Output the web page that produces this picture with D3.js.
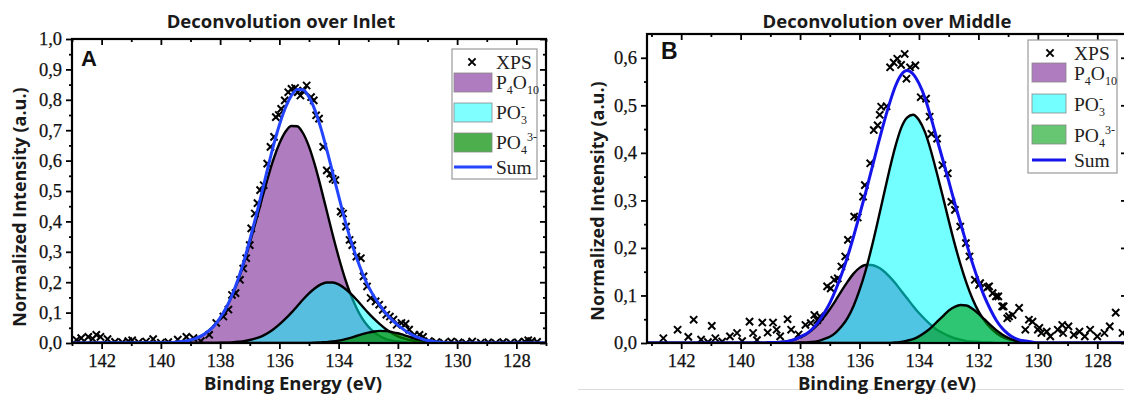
<!DOCTYPE html>
<html><head><meta charset="utf-8">
<script src="https://cdn.jsdelivr.net/npm/d3@7"></script>
<style>body{margin:0;background:#fff}svg{display:block}</style>
</head><body>
<svg id="chart" width="1124" height="394"></svg>
<script>
// ---------------- DATA ----------------
const energyGrid = [143.2,
  140.0,139.8,139.6,139.4,139.2,139.0,138.8,138.6,138.4,138.2,
  138.0,137.8,137.6,137.4,137.2,137.0,136.8,136.6,136.4,136.2,
  136.0,135.8,135.6,135.4,135.2,135.0,134.8,134.6,134.4,134.2,
  134.0,133.8,133.6,133.4,133.2,133.0,132.8,132.6,132.4,132.2,
  132.0,131.8,131.6,131.4,131.2,131.0,130.8,130.6,130.4,130.2,
  130.0,129.8,129.6,129.4,129.2,129.0,127.0];

const inletP4O10 = [0,
  0.001,0.001,0.002,0.004,0.006,0.010,0.016,0.025,0.039,0.057,
  0.082,0.114,0.155,0.204,0.262,0.328,0.398,0.470,0.540,0.604,
  0.656,0.694,0.714,0.713,0.690,0.646,0.585,0.512,0.434,0.356,
  0.283,0.217,0.161,0.116,0.080,0.054,0.035,0.022,0.013,0.008,
  0.005,0.003,0.001,0.001,0,0,0,0,0,0,
  0,0,0,0,0,0,0];
const inletPO3 = [0,
  0,0,0,0,0,0,0,0,0,0,
  0.001,0.001,0.002,0.004,0.006,0.010,0.015,0.022,0.032,0.045,
  0.061,0.079,0.099,0.121,0.143,0.163,0.180,0.193,0.199,0.199,
  0.193,0.180,0.163,0.143,0.121,0.099,0.079,0.061,0.045,0.032,
  0.022,0.015,0.010,0.006,0.004,0.002,0.001,0.001,0,0,
  0,0,0,0,0,0,0];
const inletPO4 = [0,
  0,0,0,0,0,0,0,0,0,0,
  0,0,0,0,0,0,0,0,0,0,
  0,0,0,0,0,0,0.001,0.002,0.003,0.005,
  0.008,0.012,0.017,0.023,0.029,0.034,0.038,0.040,0.039,0.036,
  0.032,0.026,0.020,0.014,0.010,0.006,0.004,0.002,0.001,0,
  0,0,0,0,0,0,0];

const middleP4O10 = [0,
  0,0,0,0,0,0.001,0.001,0.002,0.004,0.007,
  0.012,0.018,0.027,0.039,0.054,0.071,0.090,0.110,0.129,0.146,
  0.158,0.164,0.164,0.160,0.152,0.140,0.126,0.110,0.094,0.078,
  0.063,0.050,0.038,0.028,0.021,0.015,0.010,0.007,0.004,0.003,
  0.002,0.001,0.001,0,0,0,0,0,0,0,
  0,0,0,0,0,0,0];
const middlePO3 = [0,
  0,0,0,0,0,0,0,0,0,0,
  0.001,0.001,0.002,0.004,0.008,0.013,0.022,0.035,0.053,0.078,
  0.111,0.151,0.199,0.252,0.307,0.362,0.412,0.452,0.474,0.480,
  0.469,0.444,0.405,0.358,0.309,0.258,0.209,0.165,0.126,0.093,
  0.067,0.047,0.032,0.021,0.013,0.008,0.005,0.003,0.002,0.001,
  0,0,0,0,0,0,0];
const middlePO4 = [0,
  0,0,0,0,0,0,0,0,0,0,
  0,0,0,0,0,0,0,0,0,0,
  0,0,0,0,0,0,0.001,0.002,0.005,0.008,
  0.014,0.022,0.032,0.044,0.056,0.068,0.076,0.080,0.079,0.072,
  0.062,0.050,0.038,0.027,0.018,0.011,0.006,0.003,0.002,0.001,
  0,0,0,0,0,0,0];

const inletXpsEnergy = [142.85,142.69,142.45,142.30,142.18,142.04,141.80,141.55,141.30,141.10,
  140.97,140.75,140.50,140.26,140.00,139.75,139.43,139.14,138.90,138.65,
  138.37,138.13,137.89,137.72,137.60,137.48,137.33,137.22,137.12,137.00,
  136.95,136.83,136.74,136.65,136.53,136.41,136.30,136.18,136.12,136.02,
  135.94,135.82,135.70,135.59,135.47,135.38,135.29,135.20,135.08,134.93,
  134.84,134.76,134.66,134.52,134.40,134.28,134.20,134.11,133.93,133.85,
  133.75,133.63,133.54,133.40,133.25,133.16,133.04,132.92,132.75,132.63,
  132.51,132.39,132.27,132.15,132.04,131.88,131.74,131.62,131.44,131.27,
  131.15,130.95,130.70,130.45,130.20,129.95,129.70,129.49,129.20,128.95,
  128.70,128.45,128.20,127.95,127.72,127.60,127.48,127.30];
const inletXpsIntensity = [0.010,0.016,0.020,0.014,0.027,0.020,0.013,0.004,0.002,0.006,
  0.009,0.002,0.005,0.013,0.001,0.003,0.011,0.020,0.016,0.006,
  0.027,0.066,0.087,0.110,0.158,0.164,0.208,0.245,0.279,0.322,
  0.377,0.426,0.460,0.503,0.519,0.590,0.645,0.678,0.743,0.750,
  0.770,0.798,0.825,0.836,0.839,0.825,0.814,0.830,0.847,0.809,
  0.798,0.749,0.738,0.645,0.568,0.557,0.540,0.536,0.432,0.426,
  0.383,0.339,0.322,0.284,0.279,0.219,0.186,0.148,0.137,0.126,
  0.109,0.093,0.087,0.077,0.060,0.066,0.063,0.044,0.027,0.027,
  0.020,0.006,0.003,0.001,0.005,0.002,0.000,0.005,0.001,0.002,
  0.000,0.003,0.001,0.002,0.005,0.009,0.006,0.004];

const middleXpsEnergy = [142.60,142.12,141.76,141.58,141.33,141.10,140.97,140.85,140.62,140.36,
  140.12,139.95,139.70,139.58,139.45,139.27,139.09,138.91,138.79,138.67,
  138.42,138.30,138.05,137.82,137.64,137.52,137.42,137.33,137.09,136.97,
  136.85,136.73,136.61,136.48,136.39,136.18,136.06,135.88,135.82,135.64,
  135.52,135.39,135.32,135.27,135.09,134.97,134.85,134.73,134.60,134.48,
  134.42,134.30,134.12,133.94,133.76,133.64,133.58,133.39,133.21,133.03,
  132.91,132.79,132.61,132.42,132.30,132.12,131.98,131.94,131.70,131.64,
  131.52,131.41,131.33,131.20,131.15,131.03,130.97,130.85,130.63,130.42,
  130.30,130.18,130.00,129.95,129.88,129.70,129.58,129.33,129.18,129.15,
  128.97,128.79,128.60,128.42,128.24,128.00,127.76,127.58,127.38,127.15];
const middleXpsIntensity = [0.010,0.028,0.013,0.049,0.007,0.002,0.036,0.010,0.003,0.014,
  0.021,0.004,0.045,0.021,0.006,0.043,0.022,0.043,0.028,0.014,
  0.050,0.028,0.018,0.038,0.042,0.059,0.048,0.056,0.119,0.115,
  0.133,0.136,0.161,0.182,0.217,0.266,0.264,0.308,0.332,0.378,
  0.448,0.458,0.480,0.497,0.498,0.580,0.590,0.598,0.585,0.608,
  0.556,0.580,0.584,0.517,0.514,0.476,0.440,0.430,0.374,0.357,
  0.297,0.280,0.245,0.210,0.182,0.133,0.122,0.126,0.117,0.119,
  0.105,0.098,0.098,0.077,0.077,0.052,0.056,0.059,0.074,0.028,
  0.049,0.045,0.028,0.032,0.021,0.024,0.014,0.028,0.038,0.021,
  0.035,0.017,0.024,0.014,0.028,0.014,0.021,0.035,0.064,0.021];

const xTickValues = [142,140,138,136,134,132,130,128];
const xMinorValues = [143,141,139,137,135,133,131,129,127];
const yTicksInlet = [0,0.1,0.2,0.3,0.4,0.5,0.6,0.7,0.8,0.9,1.0];
const yMinorInlet = [0.05,0.15,0.25,0.35,0.45,0.55,0.65,0.75,0.85,0.95];
const yTicksMiddle = [0,0.1,0.2,0.3,0.4,0.5,0.6];
const yMinorMiddle = [0.05,0.15,0.25,0.35,0.45,0.55];

const panelTitles = ["Deconvolution over Inlet", "Deconvolution over Middle"];
const panelLetters = ["A", "B"];
const xAxisTitle = "Binding Energy (eV)";
const yAxisTitle = "Normalized Intensity (a.u.)";
const legendParts = [
  [["XPS",""]],
  [["P",""],["4","sub"],["O",""],["10","sub"]],
  [["PO",""],["3","sub"],["-","supstack"]],
  [["PO",""],["4","sub"],["3-","sup"]],
  [["Sum",""]]
];

// ---------------- DRAWING ----------------
const svg = d3.select("#chart");
const fmtY = d => d3.format(".1f")(d).replace(".", ",");
const CROSS = "M-3.6,-3.6L3.6,3.6M-3.6,3.6L3.6,-3.6";

function richText(sel, parts, fs, sfs) {
  const off = {"0": 0, "1": 5, "-1": -8};
  let state = 0;
  parts.forEach(([t, k]) => {
    const target = k === "sub" ? 1 : (k.startsWith("sup") ? -1 : 0);
    const ts = sel.append("tspan").text(t)
      .attr("dy", off[target] - off[state])
      .attr("font-size", target ? sfs : fs);
    if (k === "supstack") ts.attr("dx", -sfs * 0.5);
    state = target;
  });
}

function drawPanel(p) {
  const x = d3.scaleLinear().domain(p.xDomain).range([p.left, p.right]);
  const y = d3.scaleLinear().domain(p.yDomain).range([p.bottom, p.top]);
  const g = svg.append("g");
  const clipId = "clip-" + p.id;
  svg.append("clipPath").attr("id", clipId).append("rect")
    .attr("x", p.left).attr("y", p.top - 2)
    .attr("width", p.right - p.left).attr("height", p.bottom - p.top + 2);
  const plot = g.append("g").attr("clip-path", `url(#${clipId})`);

  const rows = energyGrid.map((e, i) => ({e, v: p.comps.map(c => c[i])}));
  rows.forEach(r => r.sum = d3.sum(r.v));
  const curve = d3.curveMonotoneX;

  p.comps.forEach((c, k) => {
    const st = p.styles[k];
    plot.append("path").datum(rows)
      .attr("d", d3.area().curve(curve).x(r => x(r.e)).y0(y(0)).y1(r => y(r.v[k])))
      .attr("fill", st.fill).attr("fill-opacity", st.opacity);
    plot.append("path").datum(rows)
      .attr("d", d3.line().curve(curve).x(r => x(r.e)).y(r => y(r.v[k])))
      .attr("fill", "none").attr("stroke", "#000").attr("stroke-width", 2.4);
  });

  const pts = p.xpsE.map((e, i) => ({e, v: p.xpsI[i]}));
  plot.append("g").selectAll("path").data(pts).join("path")
    .attr("transform", d => `translate(${x(d.e)},${y(d.v)})`)
    .attr("d", CROSS)
    .attr("stroke", "#000").attr("stroke-width", 2);

  plot.append("path").datum(rows)
    .attr("d", d3.line().curve(curve).x(r => x(r.e)).y(r => y(r.sum)))
    .attr("fill", "none").attr("stroke", p.sumColor).attr("stroke-width", 3);

  // axes
  const tickStyle = sel => {
    sel.select(".domain").remove();
    sel.selectAll("line").attr("stroke", "#000").attr("stroke-width", 1.8);
    sel.selectAll("text").attr("font-family", "'Liberation Serif', serif")
      .attr("font-size", 18.5).attr("fill", "#111")
      .attr("stroke", "#111").attr("stroke-width", 0.25);
  };
  g.append("g").attr("transform", `translate(0,${p.bottom})`)
    .call(d3.axisBottom(x).tickValues(xTickValues).tickSize(6).tickPadding(5).tickFormat(d3.format("d"))).call(tickStyle);
  g.append("g").attr("transform", `translate(0,${p.bottom})`)
    .call(d3.axisBottom(x).tickValues(xMinorValues).tickSize(3).tickFormat("")).call(tickStyle);
  g.append("g").attr("transform", `translate(0,${p.top})`)
    .call(d3.axisBottom(x).tickValues(xTickValues).tickSize(6).tickFormat("")).call(tickStyle);
  g.append("g").attr("transform", `translate(0,${p.top})`)
    .call(d3.axisBottom(x).tickValues(xMinorValues).tickSize(3).tickFormat("")).call(tickStyle);
  g.append("g").attr("transform", `translate(${p.left},0)`)
    .call(d3.axisLeft(y).tickValues(p.yTicks).tickSize(6).tickPadding(4).tickFormat(fmtY)).call(tickStyle);
  g.append("g").attr("transform", `translate(${p.left},0)`)
    .call(d3.axisLeft(y).tickValues(p.yMinor).tickSize(3).tickFormat("")).call(tickStyle);
  g.append("g").attr("transform", `translate(${p.right},0)`)
    .call(d3.axisLeft(y).tickValues(p.yTicks).tickSize(6).tickFormat("")).call(tickStyle);
  g.append("g").attr("transform", `translate(${p.right},0)`)
    .call(d3.axisLeft(y).tickValues(p.yMinor).tickSize(3).tickFormat("")).call(tickStyle);

  g.append("rect").attr("x", p.left).attr("y", p.top)
    .attr("width", p.right - p.left).attr("height", p.bottom - p.top)
    .attr("fill", "none").attr("stroke", "#000").attr("stroke-width", 2.2);

  // titles
  g.append("text").attr("x", p.titleX).attr("y", 28).attr("text-anchor", "middle")
    .attr("font-family", "'Open Sans', sans-serif").attr("font-weight", 700).attr("font-size", 18.5)
    .attr("fill", "#1a1a1a").text(p.title);
  g.append("text").attr("x", p.xTitleX).attr("y", 390).attr("text-anchor", "middle")
    .attr("font-family", "'Open Sans', sans-serif").attr("font-weight", 700).attr("font-size", 18.5)
    .attr("fill", "#1a1a1a").text(xAxisTitle);
  g.append("text").attr("transform", `translate(${p.yTitleX},${p.yTitleY}) rotate(-90)`)
    .attr("text-anchor", "middle")
    .attr("font-family", "'Open Sans', sans-serif").attr("font-weight", 700).attr("font-size", 18)
    .attr("fill", "#1a1a1a").text(yAxisTitle);
  g.append("text").attr("x", p.letterX).attr("y", p.letterY)
    .attr("font-family", "'Liberation Sans', Arial, sans-serif").attr("font-weight", 700)
    .attr("font-size", p.letterSize).attr("fill", "#111").text(p.letter);

  // legend
  const L = p.legend;
  const lg = g.append("g");
  lg.append("rect").attr("x", L.x).attr("y", L.y).attr("width", L.w).attr("height", L.h)
    .attr("fill", "#fff").attr("stroke", "#9a9a9a").attr("stroke-width", 1.2);
  lg.append("path").attr("transform", `translate(${L.markerX},${L.xpsY})`)
    .attr("d", CROSS).attr("stroke", "#000").attr("stroke-width", 2);
  const addLabel = (parts, yb) => {
    const t = lg.append("text").attr("x", L.textX).attr("y", yb)
      .attr("font-family", "'Liberation Serif', serif").attr("fill", "#222");
    richText(t, parts, 19.5, 12);
  };
  addLabel(legendParts[0], L.xpsY + 6.5);
  L.swatchTops.forEach((top, k) => {
    lg.append("rect").attr("x", L.swatchX).attr("y", top).attr("width", L.swatchW).attr("height", L.swatchH)
      .attr("fill", p.styles[k].fill).attr("fill-opacity", p.styles[k].opacity)
      .attr("stroke", "#888").attr("stroke-opacity", 0.8).attr("stroke-width", 1);
    addLabel(legendParts[k + 1], top + L.textOff);
  });
  lg.append("line").attr("x1", L.swatchX).attr("x2", L.swatchX + L.swatchW)
    .attr("y1", L.sumY).attr("y2", L.sumY).attr("stroke", p.sumColor).attr("stroke-width", 3);
  addLabel(legendParts[4], L.sumY + 7);
}

// faint screenshot separator under panel B
svg.append("line").attr("x1", 578).attr("x2", 1124).attr("y1", 389.5).attr("y2", 389.5)
  .attr("stroke", "#dcdcdc").attr("stroke-width", 1);

drawPanel({
  id: "inlet", left: 72, right: 546, top: 39, bottom: 343,
  xDomain: [143, 127], yDomain: [0, 1],
  yTicks: yTicksInlet, yMinor: yMinorInlet,
  comps: [inletP4O10, inletPO3, inletPO4],
  styles: [{fill: "#b07cc0", opacity: 1}, {fill: "#00ffff", opacity: 0.5}, {fill: "#008c00", opacity: 0.7}],
  sumColor: "#2345ff",
  xpsE: inletXpsEnergy, xpsI: inletXpsIntensity,
  title: panelTitles[0], titleX: 281, xTitleX: 293, yTitleX: 26, yTitleY: 207,
  letter: panelLetters[0], letterX: 81, letterY: 66, letterSize: 22,
  legend: {x: 452, y: 49, w: 85, h: 130, markerX: 472, xpsY: 62, swatchX: 454, swatchW: 38, swatchH: 19,
    swatchTops: [73, 103, 133], textX: 496, textOff: 16, sumY: 167}
});

drawPanel({
  id: "middle", left: 647, right: 1127, top: 34, bottom: 343,
  xDomain: [143.15, 127], yDomain: [0, 0.65],
  yTicks: yTicksMiddle, yMinor: yMinorMiddle,
  comps: [middleP4O10, middlePO3, middlePO4],
  styles: [{fill: "#b07cc0", opacity: 1}, {fill: "#00ffff", opacity: 0.55}, {fill: "#00a014", opacity: 0.6}],
  sumColor: "#1414eb",
  xpsE: middleXpsEnergy, xpsI: middleXpsIntensity,
  title: panelTitles[1], titleX: 887, xTitleX: 887, yTitleX: 604, yTitleY: 201,
  letter: panelLetters[1], letterX: 661, letterY: 59, letterSize: 23,
  legend: {x: 1028, y: 40, w: 89, h: 133, markerX: 1050, xpsY: 53, swatchX: 1032, swatchW: 34, swatchH: 19,
    swatchTops: [63, 94, 125], textX: 1074, textOff: 17, sumY: 160}
});
</script>
</body></html>
